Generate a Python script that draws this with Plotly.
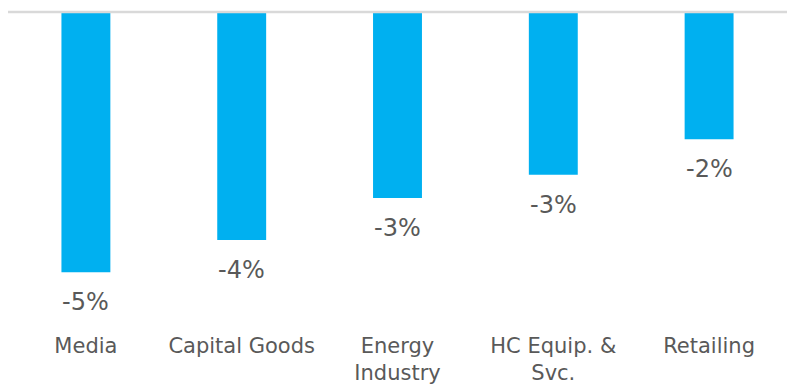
import plotly.graph_objects as go

# Change by sector (fraction)
categories = ["Media", "Capital Goods", "Energy<br>Industry", "HC Equip. &<br>Svc.", "Retailing"]
values = [-0.047, -0.0412, -0.0336, -0.0294, -0.0230]

BAR_COLOR = "#00B0F0"
TEXT_COLOR = "#595959"
FONT = "DejaVu Sans"

fig = go.Figure(
    go.Bar(
        x=categories,
        y=values,
        marker=dict(color=BAR_COLOR, line=dict(width=0)),
        hoverinfo="skip",
    )
)

# value labels below each bar end
for cat, v in zip(categories, values):
    fig.add_annotation(
        x=cat, y=v, xref="x", yref="y",
        text=f"{v * 100:.0f}%",
        showarrow=False,
        yanchor="top",
        yshift=-14,
        font=dict(family=FONT, size=24, color=TEXT_COLOR),
    )

# zero baseline along the top edge of the plot
fig.add_shape(
    type="line", xref="paper", yref="paper",
    x0=0, x1=1, y0=1, y1=1,
    line=dict(color="#D9D9D9", width=2.5),
    layer="above",
)

fig.update_layout(
    width=795,
    height=388,
    margin=dict(l=8, r=8, t=12, b=66),
    paper_bgcolor="white",
    plot_bgcolor="white",
    bargap=0.686,
    showlegend=False,
    font=dict(family=FONT, color=TEXT_COLOR),
)
fig.update_xaxes(
    showgrid=False, showline=False, zeroline=False,
    ticks="", ticklabelstandoff=9, automargin=False,
    tickfont=dict(family=FONT, size=21, color=TEXT_COLOR),
)
fig.update_yaxes(
    range=[-0.056, 0], visible=False, showgrid=False, zeroline=False,
)

fig.write_html("out.html")
